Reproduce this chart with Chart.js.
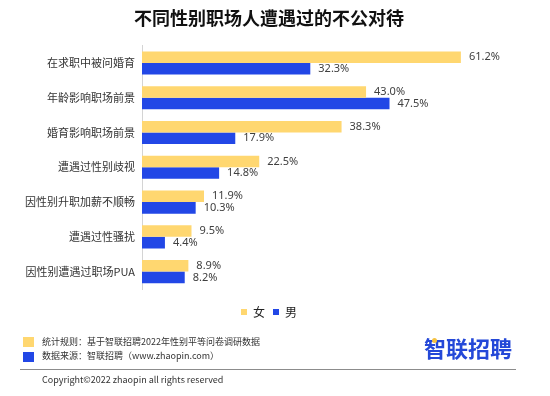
<!DOCTYPE html>
<html>
<head>
<meta charset="utf-8">
<script src="https://cdn.jsdelivr.net/npm/chart.js@4/dist/chart.umd.min.js"></script>
<style>
  html,body{margin:0;padding:0;background:#fff;overflow:hidden;}
  #wrap{position:relative;width:550px;height:396px;font-family:"Noto Sans CJK SC","Noto Sans",sans-serif;}
  canvas{position:absolute;left:0;top:0;}
  .note{position:absolute;left:42px;font-size:9px;color:#333;line-height:12px;white-space:nowrap;}
  .sq{position:absolute;left:23px;width:11px;height:10px;}
  .rule{position:absolute;left:20px;top:369px;width:496px;height:1px;background:#8c8c8c;}
  .logo{position:absolute;left:424px;top:333px;font-size:22px;font-weight:bold;color:#2448d8;line-height:28px;letter-spacing:0px;white-space:nowrap;}
  .dot{position:absolute;left:432px;top:338px;width:5px;height:5px;border-radius:50%;background:#f5c242;}
</style>
</head>
<body>
<div id="wrap">
  <canvas id="c" width="550" height="396"></canvas>
  <div class="sq" style="top:337px;background:#ffd770;"></div>
  <div class="note" style="top:336px;">统计规则：基于智联招聘2022年性别平等问卷调研数据</div>
  <div class="sq" style="top:352px;background:#2247e6;"></div>
  <div class="note" style="top:350px;">数据来源：智联招聘（www.zhaopin.com）</div>
  <div class="rule"></div>
  <div class="note" style="top:374px;">Copyright©2022 zhaopin all rights reserved</div>
  <div class="logo">智联招聘</div>
  <div class="dot"></div>
</div>
<script>
const categories = ['在求职中被问婚育','年龄影响职场前景','婚育影响职场前景','遭遇过性别歧视','因性别升职加薪不顺畅','遭遇过性骚扰','因性别遭遇过职场PUA'];
const seriesNames = ['女','男'];
const femaleValues = [61.2, 43.0, 38.3, 22.5, 11.9, 9.5, 8.9];
const maleValues = [32.3, 47.5, 17.9, 14.8, 10.3, 4.4, 8.2];
const chartTitle = '不同性别职场人遭遇过的不公对待';

const valueLabels = {
  id: 'valueLabels',
  afterDatasetsDraw(chart) {
    const ctx = chart.ctx;
    ctx.save();
    ctx.font = '11px "Noto Sans", "Noto Sans CJK SC", sans-serif';
    ctx.fillStyle = '#404040';
    ctx.textAlign = 'left';
    ctx.textBaseline = 'middle';
    chart.data.datasets.forEach((ds, i) => {
      chart.getDatasetMeta(i).data.forEach((bar, j) => {
        ctx.fillText(ds.data[j].toFixed(1) + '%', bar.x + 8, bar.y);
      });
    });
    ctx.restore();
  }
};

new Chart(document.getElementById('c'), {
  type: 'bar',
  data: {
    labels: categories,
    datasets: [
      { label: seriesNames[0], data: femaleValues, backgroundColor: '#ffd770' },
      { label: seriesNames[1], data: maleValues, backgroundColor: '#2247e6' }
    ]
  },
  options: {
    indexAxis: 'y',
    responsive: false,
    animation: false,
    devicePixelRatio: 1,
    layout: { padding: { left: 0, right: 12, top: 0, bottom: 68 } },
    datasets: { bar: { barPercentage: 1, categoryPercentage: 0.665 } },
    scales: {
      x: {
        min: 0, max: 76,
        grid: { display: false, drawTicks: false },
        border: { display: false },
        ticks: { display: false },
        afterFit(scale) { scale.height = 9; }
      },
      y: {
        grid: { display: false, drawTicks: false },
        border: { display: true, color: '#d4d4d4', width: 1 },
        ticks: { padding: 7, color: '#333', font: { size: 11, family: '"Noto Sans CJK SC", sans-serif' } },
        afterFit(scale) { scale.width = 142; }
      }
    },
    plugins: {
      title: {
        display: true, text: chartTitle, color: '#111',
        font: { size: 18, weight: 'bold', family: '"Noto Sans CJK SC", sans-serif' },
        padding: { top: 7, bottom: 17 }
      },
      legend: {
        display: true, position: 'bottom',
        labels: { boxWidth: 6, boxHeight: 6, padding: 8, color: '#222', font: { size: 12, family: '"Noto Sans CJK SC", sans-serif' } }
      },
      tooltip: { enabled: false }
    }
  },
  plugins: [valueLabels]
});
</script>
</body>
</html>
